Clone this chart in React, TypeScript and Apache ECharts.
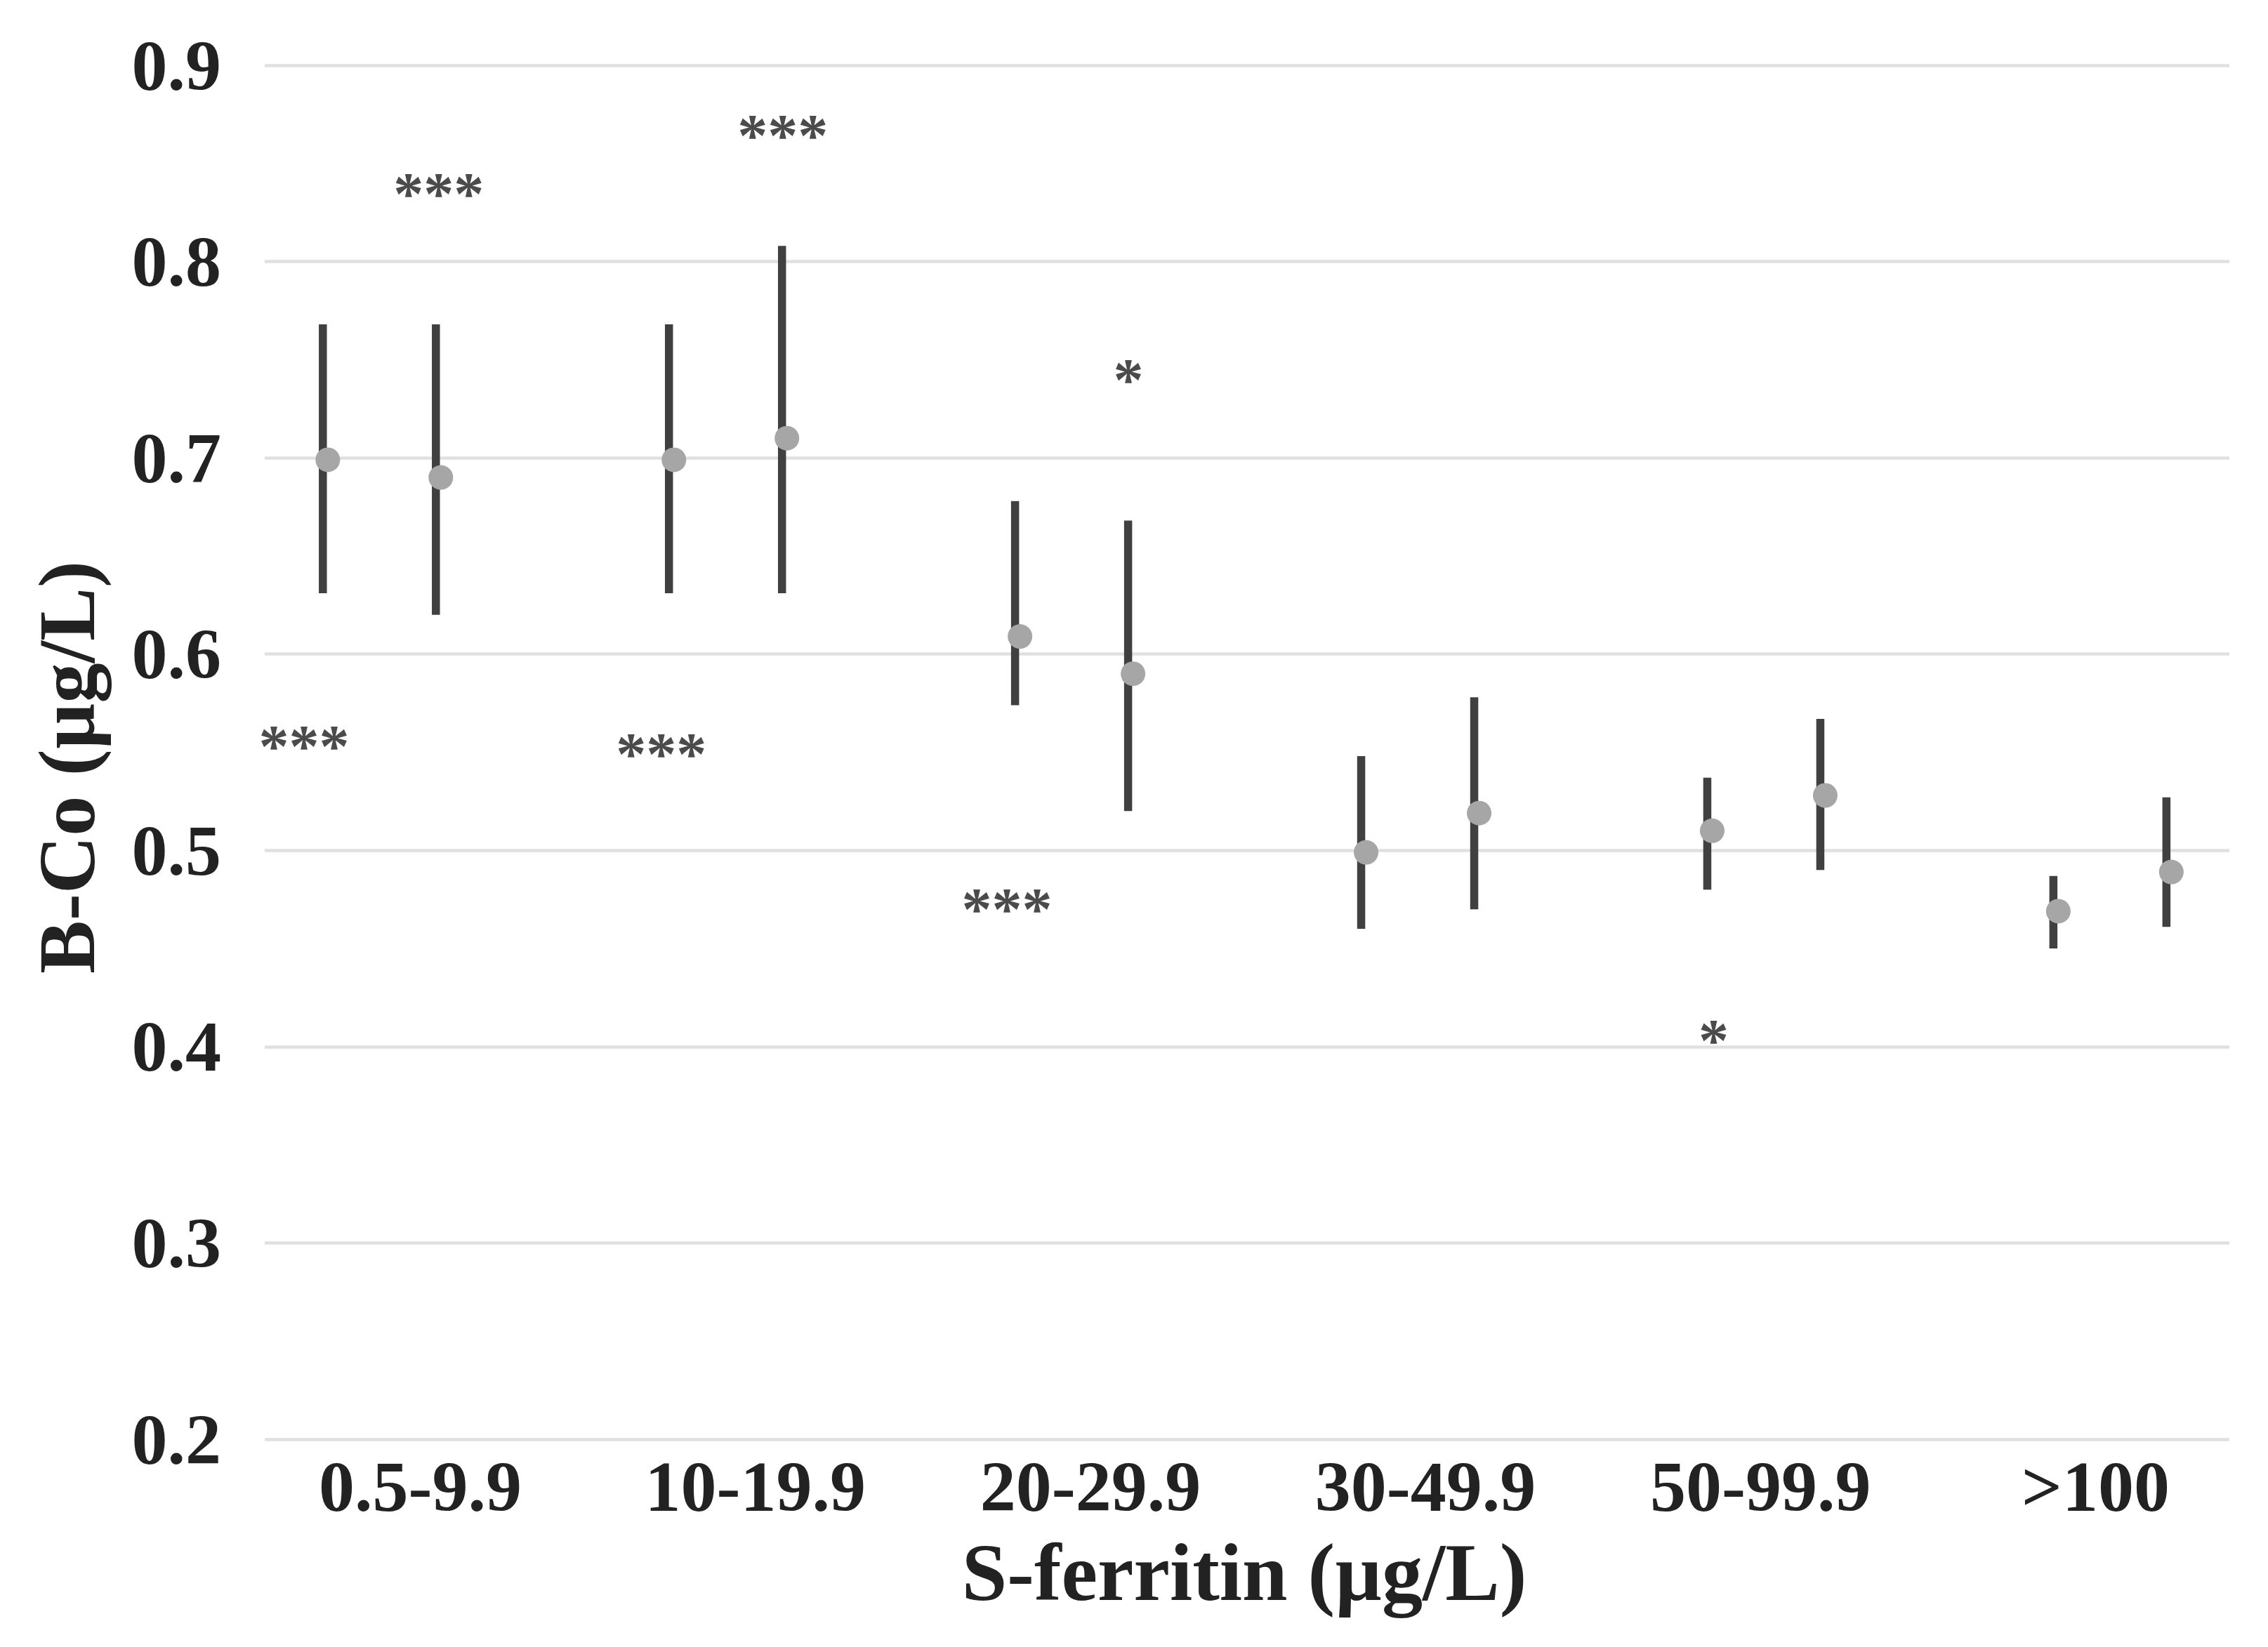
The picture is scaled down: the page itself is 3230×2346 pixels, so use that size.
import React, { useEffect, useRef } from "react";
import * as echarts from "echarts";

// ---- data ----
const categories = ["0.5-9.9", "10-19.9", "20-29.9", "30-49.9", "50-99.9", ">100"];
const yTicks = [0.2, 0.3, 0.4, 0.5, 0.6, 0.7, 0.8, 0.9];

// first point of each group
const mean1 = [0.699, 0.699, 0.609, 0.499, 0.51, 0.469];
const upper1 = [0.768, 0.768, 0.678, 0.548, 0.537, 0.487];
const lower1 = [0.631, 0.631, 0.574, 0.46, 0.48, 0.45];
// second point of each group
const mean2 = [0.69, 0.71, 0.59, 0.519, 0.528, 0.489];
const upper2 = [0.768, 0.808, 0.668, 0.578, 0.567, 0.527];
const lower2 = [0.62, 0.631, 0.52, 0.47, 0.49, 0.461];

// significance annotations (position in axis units)
const annotText = ["***", "***", "***", "***", "*", "***", "*"];
const annotX = [0.157, -0.232, 1.151, 0.8, 2.15, 1.799, 3.841];
const annotY = [0.8386, 0.557, 0.868, 0.553, 0.7437, 0.474, 0.4072];

const xTitle = "S-ferritin (µg/L)";
const yTitle = "B-Co (µg/L)";

const W = 3230;
const H = 2346;
const OFF = 0.1633;
const SERIF = "'Liberation Serif', 'Times New Roman', serif";
const TXT = "#222222";

export default function App() {
  const ref = useRef<HTMLDivElement>(null);
  useEffect(() => {
    document.body.style.margin = "0";
    if (!ref.current) return;
    const chart = echarts.init(ref.current, null, { renderer: "svg", width: W, height: H });

    const barData1 = categories.map((_, i) => [i - OFF, lower1[i], upper1[i]]);
    const barData2 = categories.map((_, i) => [i + OFF, lower2[i], upper2[i]]);
    const pts1 = categories.map((_, i) => [i - OFF, mean1[i]]);
    const pts2 = categories.map((_, i) => [i + OFF, mean2[i]]);
    const annData = annotText.map((t, i) => ({ value: [annotX[i], annotY[i]], txt: t }));

    const renderBar = (params: any, api: any) => {
      const x = api.value(0);
      const lo = api.value(1);
      const hi = api.value(2);
      const pTop = api.coord([x, hi]);
      const pBot = api.coord([x, lo]);
      const bw = 11.5;
      return {
        type: "rect",
        shape: { x: pTop[0] - 7 - bw / 2, y: pTop[1], width: bw, height: pBot[1] - pTop[1] },
        style: { fill: "#404040" },
      };
    };

    chart.setOption({
      animation: false,
      backgroundColor: "#ffffff",
      grid: [
        { left: 377, right: 55, top: 93, bottom: 296, containLabel: false },
        { left: 360, right: 7, top: 93, bottom: 296, containLabel: false },
      ],
      xAxis: [
        {
          type: "value",
          gridIndex: 0,
          min: -0.3455,
          max: 5.331,
          show: false,
          splitLine: { show: false },
        },
        {
          type: "category",
          gridIndex: 1,
          data: categories,
          boundaryGap: true,
          axisLine: { show: false },
          axisTick: { show: false },
          axisLabel: {
            margin: 16,
            fontFamily: SERIF,
            fontWeight: "bold",
            fontSize: 102,
            color: TXT,
            interval: 0,
          },
          splitLine: { show: false },
        },
      ],
      yAxis: [
        {
          type: "value",
          gridIndex: 0,
          min: yTicks[0],
          max: yTicks[yTicks.length - 1],
          interval: 0.1,
          axisLine: { show: false },
          axisTick: { show: false },
          axisLabel: {
            margin: 62,
            fontFamily: SERIF,
            fontWeight: "bold",
            fontSize: 102,
            color: TXT,
            formatter: (v: number) => v.toFixed(1),
          },
          splitLine: { show: true, lineStyle: { color: "#e0e0e0", width: 4.5 } },
        },
        {
          type: "value",
          gridIndex: 1,
          min: yTicks[0],
          max: yTicks[yTicks.length - 1],
          show: false,
          splitLine: { show: false },
        },
      ],
      series: [
        {
          type: "custom",
          xAxisIndex: 0,
          yAxisIndex: 0,
          renderItem: renderBar,
          encode: { x: 0, y: [1, 2] },
          data: barData1,
          z: 2,
        },
        {
          type: "custom",
          xAxisIndex: 0,
          yAxisIndex: 0,
          renderItem: renderBar,
          encode: { x: 0, y: [1, 2] },
          data: barData2,
          z: 2,
        },
        {
          type: "scatter",
          xAxisIndex: 0,
          yAxisIndex: 0,
          symbol: "circle",
          symbolSize: 35,
          itemStyle: { color: "#a6a6a6", opacity: 1 },
          data: pts1,
          z: 3,
        },
        {
          type: "scatter",
          xAxisIndex: 0,
          yAxisIndex: 0,
          symbol: "circle",
          symbolSize: 35,
          itemStyle: { color: "#a6a6a6", opacity: 1 },
          data: pts2,
          z: 3,
        },
        {
          type: "scatter",
          xAxisIndex: 0,
          yAxisIndex: 0,
          symbolSize: 1,
          itemStyle: { color: "rgba(0,0,0,0)" },
          data: annData,
          label: {
            show: true,
            position: "inside",
            formatter: (p: any) => p.data.txt,
            fontFamily: SERIF,
            fontWeight: "bold",
            fontSize: 86,
            color: "#1e1e1e",
            offset: [0, 11],
          },
          z: 4,
        },
      ],
      graphic: [
        {
          type: "text",
          x: 1772,
          y: 2240,
          style: {
            text: xTitle,
            fontFamily: SERIF,
            fontWeight: "bold",
            fontSize: 116,
            fill: TXT,
            align: "center",
            verticalAlign: "middle",
          },
        },
        {
          type: "text",
          x: 95,
          y: 1093,
          rotation: Math.PI / 2,
          style: {
            text: yTitle,
            fontFamily: SERIF,
            fontWeight: "bold",
            fontSize: 114,
            fill: TXT,
            align: "center",
            verticalAlign: "middle",
          },
        },
      ],
    });
    return () => chart.dispose();
  }, []);
  return <div ref={ref} style={{ width: W, height: H }} />;
}
